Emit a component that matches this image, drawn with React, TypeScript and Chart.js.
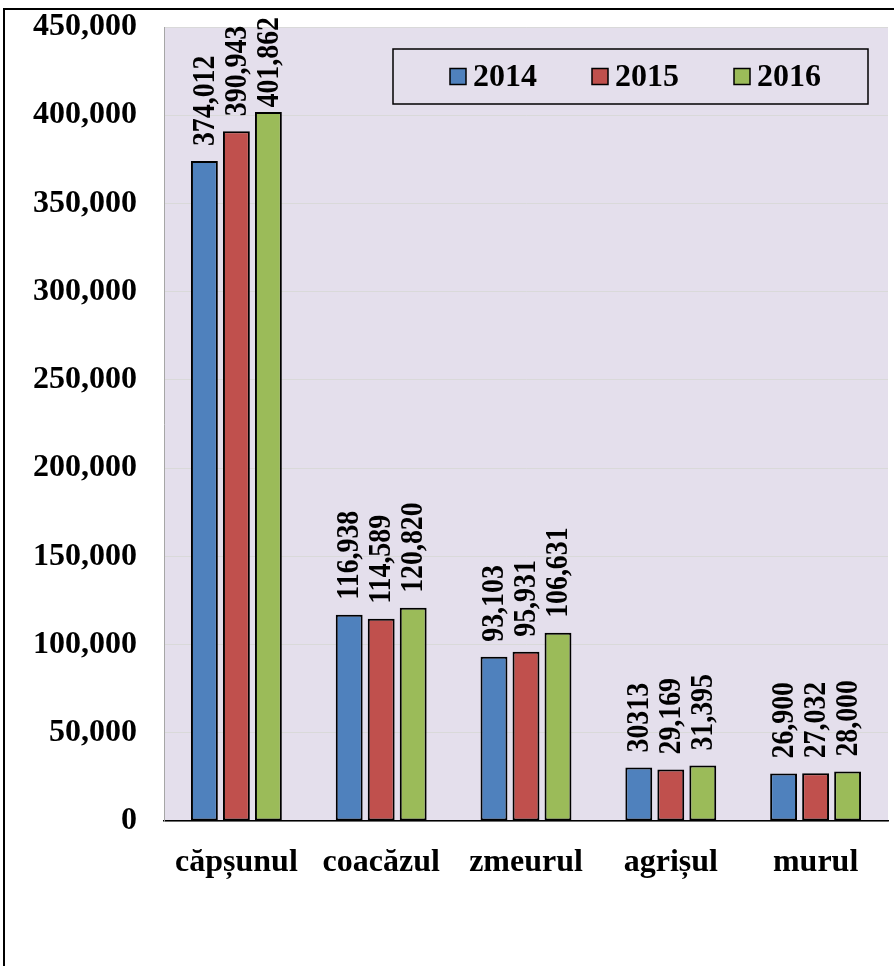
import React, { useEffect, useRef } from "react";
import { Chart, registerables } from "chart.js";

Chart.register(...registerables);

const categories = ["căpșunul", "coacăzul", "zmeurul", "agrișul", "murul"];
const years = ["2014", "2015", "2016"];
const values2014 = [374012, 116938, 93103, 30313, 26900];
const values2015 = [390943, 114589, 95931, 29169, 27032];
const values2016 = [401862, 120820, 106631, 31395, 28000];
const labels2014 = ["374,012", "116,938", "93,103", "30313", "26,900"];
const labels2015 = ["390,943", "114,589", "95,931", "29,169", "27,032"];
const labels2016 = ["401,862", "120,820", "106,631", "31,395", "28,000"];
const seriesColors = ["#4F81BD", "#C0504D", "#9BBB59"];
const yMin = 0;
const yMax = 450000;
const yStep = 50000;

const FONT = "'Liberation Serif', 'Times New Roman', serif";
const PLOT_BG = "#E4DFEC";

const allValues = [values2014, values2015, values2016];
const allLabels = [labels2014, labels2015, labels2016];

const bgPlugin = {
  id: "bgPlugin",
  beforeDraw(chart: any) {
    const { ctx, chartArea, width, height } = chart;
    ctx.save();
    ctx.fillStyle = "#FFFFFF";
    ctx.fillRect(0, 0, width, height);
    ctx.fillStyle = PLOT_BG;
    ctx.fillRect(chartArea.left, chartArea.top, chartArea.right - chartArea.left, chartArea.bottom - chartArea.top);
    // outer frame
    ctx.strokeStyle = "#000000";
    ctx.lineWidth = 2;
    ctx.beginPath();
    ctx.moveTo(4, height);
    ctx.lineTo(4, 9);
    ctx.lineTo(width, 9);
    ctx.stroke();
    ctx.restore();
  },
};

const valueLabelPlugin = {
  id: "valueLabelPlugin",
  afterDatasetsDraw(chart: any) {
    const { ctx } = chart;
    const sx = 0.87;
    const minTop = 17;
    ctx.save();
    ctx.font = `bold 32px ${FONT}`;
    ctx.fillStyle = "#000000";
    ctx.textAlign = "left";
    ctx.textBaseline = "middle";
    chart.data.datasets.forEach((ds: any, di: number) => {
      const meta = chart.getDatasetMeta(di);
      meta.data.forEach((el: any, i: number) => {
        const txt = allLabels[di][i];
        const len = ctx.measureText(txt).width * sx;
        let start = el.y - 15;
        if (start - len < minTop) start = minTop + len;
        ctx.save();
        ctx.translate(el.x + 1, start);
        ctx.rotate(-Math.PI / 2);
        ctx.scale(sx, 1);
        ctx.fillText(txt, 0, 0);
        ctx.restore();
      });
    });
    ctx.restore();
  },
};

const legendPlugin = {
  id: "legendPlugin",
  afterDraw(chart: any) {
    const { ctx, chartArea } = chart;
    const right = chartArea.right - 20;
    const left = 393;
    const top = chartArea.top + 22;
    const h = 55;
    ctx.save();
    ctx.strokeStyle = "#000000";
    ctx.lineWidth = 1.5;
    ctx.strokeRect(left, top, right - left, h);
    ctx.font = `bold 32px ${FONT}`;
    ctx.textAlign = "left";
    ctx.textBaseline = "middle";
    const cy = top + h / 2;
    const startX = 450;
    const stepX = 142;
    years.forEach((y, i) => {
      const x = startX + i * stepX;
      ctx.fillStyle = seriesColors[i];
      ctx.fillRect(x, cy - 8, 16, 16);
      ctx.strokeStyle = "#000000";
      ctx.lineWidth = 1.5;
      ctx.strokeRect(x, cy - 8, 16, 16);
      ctx.fillStyle = "#000000";
      ctx.fillText(y, x + 23, cy + 1);
    });
    ctx.restore();
  },
};

export default function App() {
  const ref = useRef<HTMLCanvasElement | null>(null);

  useEffect(() => {
    document.body.style.margin = "0";
    const canvas = ref.current;
    if (!canvas) return;
    const chart = new Chart(canvas, {
      type: "bar",
      data: {
        labels: categories,
        datasets: years.map((y, i) => ({
          label: y,
          data: allValues[i],
          backgroundColor: seriesColors[i],
          borderColor: "#000000",
          borderWidth: 2,
          borderSkipped: false,
          categoryPercentage: 0.663,
          barPercentage: 0.84,
        })),
      },
      options: {
        responsive: false,
        animation: false,
        devicePixelRatio: 1,
        layout: { padding: { top: 27, left: 0, right: 6, bottom: 0 } },
        plugins: {
          legend: { display: false },
          tooltip: { enabled: false },
          title: { display: false },
        },
        scales: {
          x: {
            grid: { display: false, drawTicks: false },
            border: { display: true, color: "#000000", width: 1.5 },
            ticks: {
              color: "#000000",
              font: { family: FONT, size: 32, weight: "bold" },
              padding: 23,
              maxRotation: 0,
              autoSkip: false,
            },
            afterFit(scale: any) {
              scale.height = 145;
              scale.paddingLeft = 0;
              scale.paddingRight = 0;
            },
          },
          y: {
            min: yMin,
            max: yMax,
            grid: { color: "#D9D9D9", lineWidth: 1, drawTicks: false },
            border: { display: true, color: "#A6A6A6", width: 1 },
            ticks: {
              stepSize: yStep,
              color: "#000000",
              font: { family: FONT, size: 32, weight: "bold" },
              padding: 27,
              callback: (v: any) => Number(v).toLocaleString("en-US"),
            },
            afterFit(scale: any) {
              scale.width = 164;
              scale.paddingTop = 0;
              scale.paddingBottom = 0;
            },
          },
        },
      },
      plugins: [bgPlugin, valueLabelPlugin, legendPlugin],
    });
    return () => chart.destroy();
  }, []);

  return (
    <div style={{ position: "absolute", left: 0, top: 0, width: 894, height: 966 }}>
      <canvas ref={ref} width={894} height={966} style={{ display: "block" }} />
    </div>
  );
}
